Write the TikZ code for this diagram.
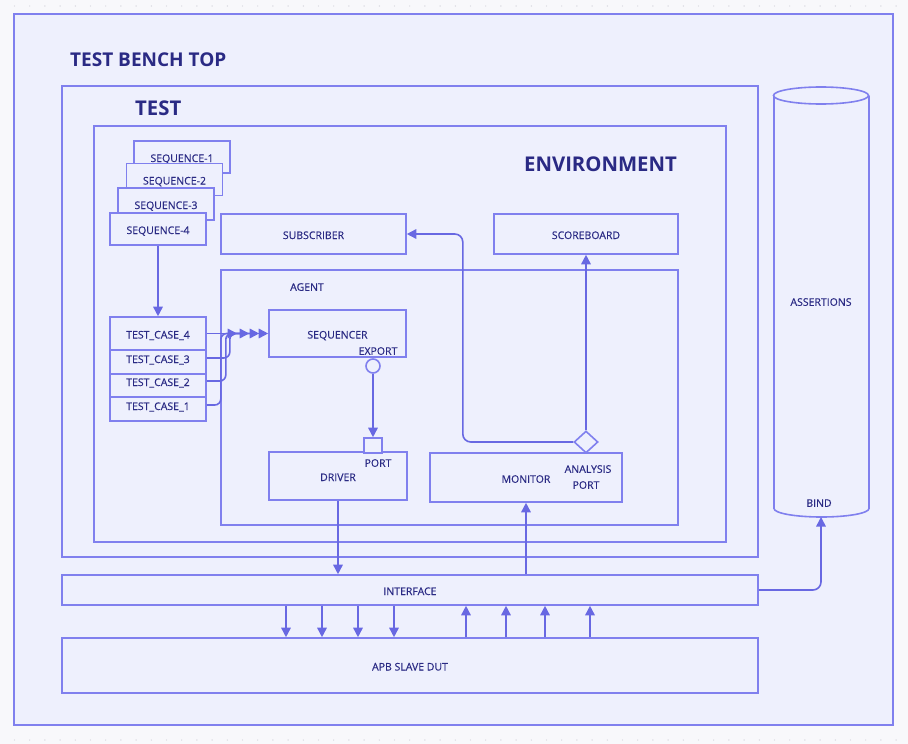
\documentclass[tikz,border=0pt]{standalone}
\usepackage{fontspec}
\setmainfont{Open Sans}
\newfontfamily\labelfont{Open Sans}[FakeBold=0.35]
\usetikzlibrary{arrows.meta,shapes.geometric}

\definecolor{bg}{HTML}{F8F8FB}
\definecolor{dotc}{HTML}{D4D4DC}
\definecolor{panel}{HTML}{EEF0FD}
\definecolor{edge}{HTML}{8080EE}
\definecolor{wire}{HTML}{6868E2}
\definecolor{ink}{HTML}{2A2A84}

\begin{document}
\begin{tikzpicture}[x=1pt,y=-1pt,
  box/.style={draw=edge, fill=panel, line width=1.6pt, rectangle, inner sep=0pt,
    text=ink, text height=10pt, text depth=0pt, font=\labelfont\fontsize{10.5}{12}\selectfont},
  lbl/.style={text=ink, inner sep=0pt, text height=7.6pt, text depth=0pt,
    font=\labelfont\fontsize{10.5}{12}\selectfont},
  title/.style={text=ink, inner sep=0pt, anchor=west, text height=14pt, text depth=0pt,
    font=\fontsize{19}{22}\selectfont\bfseries},
  bigtitle/.style={title, font=\fontsize{20.3}{24}\selectfont\bfseries},
  conn/.style={draw=wire, line width=1.6pt, -{Triangle[length=9.5pt,width=9.5pt]}},
]
% canvas and dotted backdrop
\useasboundingbox (0,0) rectangle (908,744);
\fill[bg] (0,0) rectangle (908,744);
\foreach \i in {0,...,59} {
  \fill[dotc] (14.5+15.2*\i,6) circle[radius=0.7];
  \fill[dotc] (14.5+15.2*\i,740) circle[radius=0.7];
}

% nested containers
\node[box, minimum width=879, minimum height=711] (bench) at (453.5,369.5) {};
\node[title] (benchlbl) at (70,59) {TEST BENCH TOP};
\node[box, minimum width=696, minimum height=471] (test) at (410,321.5) {};
\node[bigtitle] (testlbl) at (135,108) {TEST};
\node[box, minimum width=632, minimum height=416] (env) at (410,334) {};
\node[bigtitle] (envlbl) at (524,164) {ENVIRONMENT};

% sequences, stacked back to front
\node[box, minimum width=96, minimum height=32] (seq1) at (182,157) {SEQUENCE-1};
\node[box, minimum width=96, minimum height=32] (seq2) at (174.5,179.5) {SEQUENCE-2};
\node[box, minimum width=96, minimum height=32] (seq3) at (166,204) {SEQUENCE-3};
\node[box, minimum width=96, minimum height=32] (seq4) at (158,229) {SEQUENCE-4};

% test cases, stacked back to front
\node[box, minimum width=96, minimum height=32] (tc1) at (158,405) {TEST\_CASE\_1};
\node[box, minimum width=96, minimum height=32] (tc2) at (158,381) {TEST\_CASE\_2};
\node[box, minimum width=96, minimum height=32] (tc3) at (158,358) {TEST\_CASE\_3};
\node[box, minimum width=96, minimum height=33] (tc4) at (158,333.5) {TEST\_CASE\_4};

% environment components
\node[box, minimum width=185, minimum height=40] (sub) at (313.5,234) {SUBSCRIBER};
\node[box, minimum width=184, minimum height=40] (score) at (586,234) {SCOREBOARD};
\node[box, minimum width=457, minimum height=255] (agent) at (449.5,397.5) {};
\node[lbl] (agentlbl) at (307,287) {AGENT};

% agent internals
\node[box, minimum width=137, minimum height=47] (seqr) at (337.5,333.5) {SEQUENCER};
\node[lbl] (exportlbl) at (378,351) {EXPORT};
\node[box, circle, minimum size=14] (export) at (373,366) {};
\node[box, minimum width=138, minimum height=48] (drv) at (338,476) {DRIVER};
\node[box, minimum width=18, minimum height=15] (port) at (373,445.5) {};
\node[lbl] (portlbl) at (378,463) {PORT};
\node[box, minimum width=192, minimum height=49] (mon) at (526,477.5) {};
\node[lbl] (monlbl) at (526,479) {MONITOR};
\node[lbl] (aplbl1) at (588,469) {ANALYSIS};
\node[lbl] (aplbl2) at (586,485) {PORT};
\node[box, diamond, minimum width=24, minimum height=22] (ap) at (586,442) {};

% interface and DUT
\node[box, minimum width=696, minimum height=30] (iface) at (410,590) {INTERFACE};
\node[box, minimum width=696, minimum height=55] (dut) at (410,665.5) {APB SLAVE DUT};

% assertions cylinder
\fill[panel] (774,95.5) -- (774,508.5) arc[start angle=180,end angle=0,x radius=47.5,y radius=8.5]
  -- (869,95.5) arc[start angle=0,end angle=180,x radius=47.5,y radius=8.5] -- cycle;
\draw[edge, line width=1.6pt] (774,95.5) -- (774,508.5)
  arc[start angle=180,end angle=0,x radius=47.5,y radius=8.5] -- (869,95.5);
\draw[edge, line width=1.6pt] (821,95.5) ellipse[x radius=47.5,y radius=8.5];
\coordinate (bind) at (821,517);
\node[lbl] (assertlbl) at (821,302) {ASSERTIONS};
\node[lbl] (bindlbl) at (819,503) {BIND};

% sequence to test cases
\draw[conn] (seq4.south) -- (tc4.north);

% test cases into the sequencer
\draw[conn] (tc4.east) -- (seqr.west);
\draw[conn, rounded corners=6, shorten >=9pt] (tc3.east) -- ++(23,0) |- (seqr.west);
\draw[conn, rounded corners=6, shorten >=19pt] (tc2.east) -- ++(19,0) |- (seqr.west);
\draw[conn, rounded corners=6, shorten >=31pt] (tc1.east) -- ++(14,0) |- (seqr.west);

% sequencer export to driver port
\draw[conn] (export.south) -- (port.north);

% analysis port fan-out
\draw[conn] (ap.north) -- (score.south);
\draw[conn, rounded corners=8] (ap.west) -| ([xshift=56pt]sub.east) -- (sub.east);

% driver and monitor through the interface
\draw[conn] (drv.south) -- (drv.south |- iface.north);
\draw[conn] (mon.south |- iface.north) -- (mon.south);
\draw[conn, rounded corners=8] (iface.east) -| (bind);

% pin-level signals
\foreach \x in {286,322,358,394} {
  \coordinate (pin) at (\x,0);
  \draw[conn] (iface.south -| pin) -- (dut.north -| pin);
}
\foreach \x in {466,506,545,590} {
  \coordinate (pin) at (\x,0);
  \draw[conn] (dut.north -| pin) -- (iface.south -| pin);
}
\end{tikzpicture}
\end{document}
